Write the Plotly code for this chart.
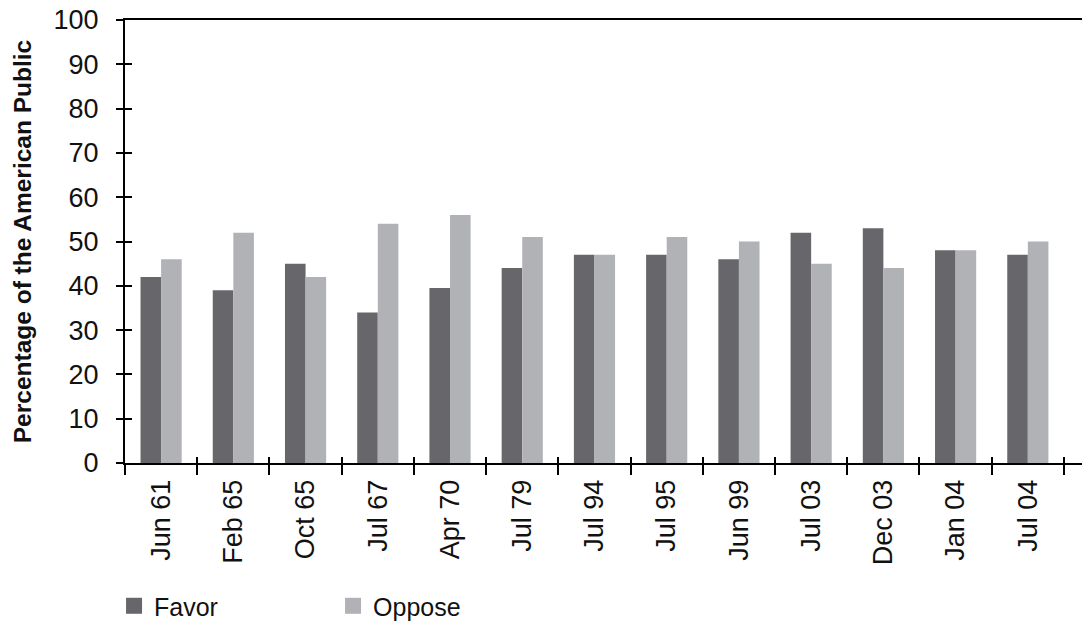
import plotly.graph_objects as go

# poll dates and shares
dates = ["Jun 61", "Feb 65", "Oct 65", "Jul 67", "Apr 70", "Jul 79", "Jul 94",
         "Jul 95", "Jun 99", "Jul 03", "Dec 03", "Jan 04", "Jul 04"]
favor = [42, 39, 45, 34, 39.5, 44, 47, 47, 46, 52, 53, 48, 47]
oppose = [46, 52, 42, 54, 56, 51, 47, 51, 50, 45, 44, 48, 50]
y_ticks = [0, 10, 20, 30, 40, 50, 60, 70, 80, 90, 100]

FAVOR_COLOR = "#67676b"
OPPOSE_COLOR = "#b1b2b5"
FONT = "Liberation Sans, Arial, sans-serif"

fig = go.Figure()
fig.add_trace(go.Bar(x=dates, y=favor, name="Favor", showlegend=False,
                     marker=dict(color=FAVOR_COLOR, line_width=0)))
fig.add_trace(go.Bar(x=dates, y=oppose, name="Oppose", showlegend=False,
                     marker=dict(color=OPPOSE_COLOR, line_width=0)))
# legend keys: bigger square swatches than the default bar key
for name, color in [("Favor", FAVOR_COLOR), ("Oppose", OPPOSE_COLOR)]:
    fig.add_trace(go.Scatter(x=[dates[0]], y=[None], name=name, mode="markers",
                             marker=dict(symbol="square", size=18, color=color),
                             hoverinfo="skip"))
# empty trace on the overlay axes so the inner half of the crossing ticks gets drawn
fig.add_trace(go.Scatter(x=dates, y=[None] * len(dates), xaxis="x2", yaxis="y2",
                         showlegend=False, hoverinfo="skip"))

x_range = [-0.5, 12.75]
fig.update_layout(
    width=1082, height=628,
    margin=dict(l=125, r=0, t=20, b=165),
    paper_bgcolor="white", plot_bgcolor="white",
    font=dict(family=FONT, color="#111111", size=24),
    barmode="group", bargap=0.43, bargroupgap=0,
    xaxis=dict(
        type="category", categoryarray=dates, range=x_range, automargin=False,
        showline=True, linecolor="black", linewidth=2, mirror=True,
        ticks="outside", tickson="boundaries", ticklen=10, tickwidth=2, tickcolor="black",
        tickangle=-90, tickfont=dict(size=27), ticklabelstandoff=4,
        showgrid=False, zeroline=False,
    ),
    yaxis=dict(
        range=[0, 100], tickvals=y_ticks, automargin=False,
        showline=True, linecolor="black", linewidth=2,
        ticks="outside", ticklen=7, tickwidth=2, tickcolor="black",
        tickfont=dict(size=27), ticklabelstandoff=12, showgrid=False, zeroline=False,
        title=dict(text="<b>Percentage of the American Public</b>", font=dict(size=24.5), standoff=15),
    ),
    xaxis2=dict(
        type="category", categoryarray=dates, range=x_range, overlaying="x", anchor="y2",
        automargin=False, showline=False, ticks="inside", tickson="boundaries", ticklen=6,
        tickwidth=2, tickcolor="black", showticklabels=False, showgrid=False, zeroline=False,
    ),
    yaxis2=dict(
        range=[0, 100], tickvals=y_ticks, overlaying="y", anchor="x2", side="left",
        automargin=False, showline=False, ticks="inside", ticklen=7, tickwidth=2,
        tickcolor="black", showticklabels=False, showgrid=False, zeroline=False,
    ),
    legend=dict(
        orientation="h", xref="container", x=0.1054, xanchor="left",
        yref="container", y=0.035, yanchor="middle",
        font=dict(size=25), entrywidth=174, traceorder="normal", itemsizing="trace",
    ),
)

# drop the browser's default body margin so the figure sits flush in the window
fig.write_html("out.html", config={"displayModeBar": False},
               post_script="document.body.style.margin = '0';")
